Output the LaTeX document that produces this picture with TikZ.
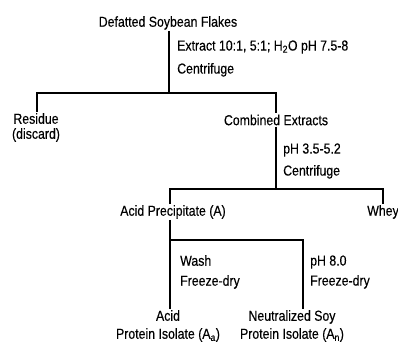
\documentclass[tikz,border=0pt]{standalone}
\usepackage{fontspec}
\setmainfont{Liberation Sans}[FakeStretch=0.85,FakeBold=0.3]

\begin{document}
\begin{tikzpicture}[x=1pt,y=-1pt,font=\fontsize{14.5}{15}\selectfont,
    stage/.style={inner sep=1pt,align=center},
    cond/.style={anchor=west,inner sep=1pt,align=left},
    flow/.style={line width=1.1pt}]
    \useasboundingbox (0,0) rectangle (398,344); % Keeps the page size...

    % products
    \node[stage] (flakes) at (168,23) {Defatted Soybean Flakes};
    \node[stage] (residue) at (36,127.5) {Residue\\(discard)};
    \node[stage] (extracts) at (276,120) {Combined Extracts};
    \node[stage] (precip) at (173,212) {Acid Precipitate (A)};
    \node[stage] (whey) at (383,212) {Whey};
    \node[stage] (isoa) at (168,326) {Acid\\[3pt]Protein Isolate (A\textsubscript{a})};
    \node[stage] (ison) at (292,326) {Neutralized Soy\\[3pt]Protein Isolate (A\textsubscript{n})};

    % treatments
    \node[cond] (extract) at (176,58.5) {Extract 10:1, 5:1; H\textsubscript{2}O pH 7.5-8\\[8pt]Centrifuge};
    \node[cond] (acidify) at (282,161) {pH 3.5-5.2\\[7pt]Centrifuge};
    \node[cond] (wash) at (179,272) {Wash\\[5pt]Freeze-dry};
    \node[cond] (neutral) at (309,272) {pH 8.0\\[5pt]Freeze-dry};

    % junctions
    \coordinate (j1) at (169,93);
    \coordinate (j2) at (276,189);
    \coordinate (j3) at (170,240);

    \draw[flow] (flakes.south -| j1) -- (j1);
    \draw[flow] (residue.north -| 37,0) |- (j1) -| (extracts.north);
    \draw[flow] (extracts.south) -- (j2);
    \draw[flow] (precip.north -| j3) |- (j2) -| (whey.north);
    \draw[flow] (precip.south -| j3) -- (isoa.north -| j3);
    \draw[flow] (j3) -| (ison.north -| 303,0);
\end{tikzpicture}
\end{document}
